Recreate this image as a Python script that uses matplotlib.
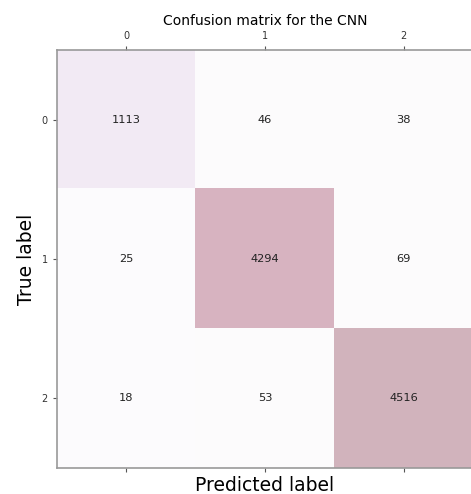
import numpy as np
import matplotlib
matplotlib.use("Agg")
import matplotlib.pyplot as plt

classes = [0, 1, 2]
row0 = [1113, 46, 38]
row1 = [25, 4294, 69]
row2 = [18, 53, 4516]
conf_matrix = np.array([row0, row1, row2])

fig = plt.figure(figsize=(4.71, 4.94), dpi=100)
ax = fig.add_axes([57 / 471, 26 / 494, 416 / 471, 418 / 494])
ax.matshow(conf_matrix, cmap=plt.cm.PuRd, alpha=0.3, aspect="auto")

for i in range(conf_matrix.shape[0]):
    for j in range(conf_matrix.shape[1]):
        ax.text(x=j, y=i, s=conf_matrix[i, j], va="center", ha="center",
                fontsize=8.2, color="#222222")

ax.set_xticks(classes)
ax.set_yticks(classes)
ax.tick_params(labelsize=7, length=3, color="#555555", labelcolor="#333333")
for sp in ax.spines.values():
    sp.set_color("#999999")
    sp.set_linewidth(1.2)

ax.set_xlabel("Predicted label", fontsize=13.5, labelpad=3)
ax.set_ylabel("True label", fontsize=13.5)
ax.xaxis.set_label_position("bottom")
ax.set_title("Confusion matrix for the CNN", fontsize=10, pad=4)

fig.savefig("out.png", dpi=100)
